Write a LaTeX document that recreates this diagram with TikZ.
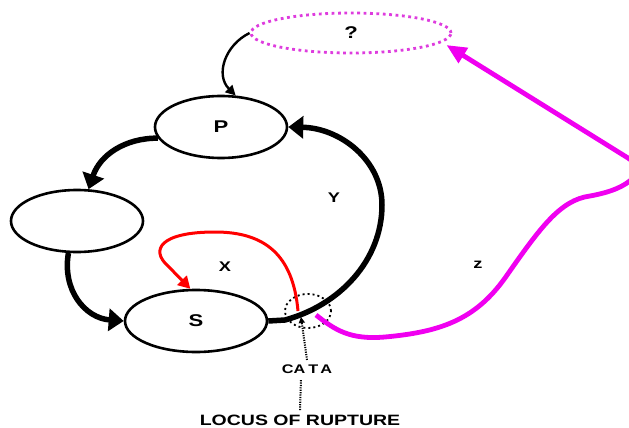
\documentclass[tikz,border=0pt]{standalone}
\usepackage{fontspec}
\setmainfont{Liberation Sans}[FakeStretch=1.3]
\usetikzlibrary{arrows.meta,shapes.geometric}
\definecolor{zpink}{RGB}{240,0,240}
\definecolor{qpink}{RGB}{222,60,222}

\begin{document}
\begin{tikzpicture}[
   x=1pt, y=-1pt, line width=2.6pt,
   stage/.style={draw,ellipse,inner sep=0pt,minimum width=132pt,minimum height=62pt,
                 font=\fontsize{17}{20}\selectfont\bfseries},
   query/.style={stage,draw=qpink,minimum width=200pt,minimum height=40pt,
                 line width=2.8pt,dash pattern=on 2.8pt off 3.6pt},
   spot/.style={draw,ellipse,inner sep=0pt,minimum width=46pt,minimum height=34pt,
                line width=1.8pt,dash pattern=on 2pt off 3pt},
   lbl/.style={font=\fontsize{14}{16}\selectfont\bfseries},
   thinflow/.style={-{Triangle[length=10pt,width=10pt]},line width=2.4pt},
   cycflow/.style={-{Triangle[length=15pt,width=22pt]},line width=5.5pt},
   xflow/.style={-{Triangle[length=12pt,width=13pt]},line width=3pt,draw=red},
   zflow/.style={-{Triangle[length=20pt,width=17pt]},line width=4.8pt,draw=zpink},
   locus/.style={line width=2pt,dash pattern=on 1.2pt off 1.2pt},
   ]
\useasboundingbox (0,0) rectangle (629,428);
%% states
\node[query] (q) at (351,33) {?};
\node[stage] (P) at (221,127) {P};
\node[stage] (B) at (77,221) {};
\node[stage,minimum width=142pt] (S) at (196,321) {S};
\node[spot]  (rupt) at (308,311) {};
%% labels
\node[lbl] (x) at (225,267) {X};
\node[lbl] (y) at (334,198) {Y};
\node[lbl] (z) at (478,265) {z};
\node[lbl,font=\fontsize{12.5}{14}\selectfont\bfseries] (cata) at (307,369) {CA\kern3pt T\kern2pt A};
\node[lbl,font=\fontsize{15}{18}\selectfont\bfseries] (loc) at (300,420) {LOCUS OF RUPTURE};
\coordinate (xfoot) at (298,311);
\coordinate (zfoot) at (316,315);
\coordinate (rtip)  at (301,317);
%% main cycle
\draw[thinflow] (q.west) .. controls (225,45) and (215,75) .. (P.65);
\draw[cycflow] (P.190) .. controls (125,138) and (100,155) .. (B.70);
\draw[cycflow] (B.255) .. controls (62,290) and (85,318) .. (S.west);
\draw[cycflow] (S.east) -- (285,320) .. controls (340,305) and (382,260) .. (382,205)
   .. controls (382,160) and (340,128) .. (P.east);
%% shortcut X
\draw[xflow] (xfoot) .. controls (293,255) and (265,232) .. (215,232)
   .. controls (160,232) and (150,250) .. (168,266) -- (S.100);
%% escape Z
\draw[zflow] (zfoot) .. controls (335,330) and (350,340) .. (385,337)
   .. controls (440,332) and (475,320) .. (505,278)
   .. controls (540,228) and (560,200) .. (590,196)
   .. controls (612,192) and (625,186) .. (633,178)
   .. controls (640,170) and (636,163) .. (628,158)
   -- ([shift={(-6,12)}]q.east);
%% locus of rupture
\draw[locus,-{Triangle[length=6pt,width=6pt]}] (cata.north) -- (rtip);
\draw[locus] (loc.north) -- ([yshift=-1pt]cata.south -| rtip);
\end{tikzpicture}
\end{document}
